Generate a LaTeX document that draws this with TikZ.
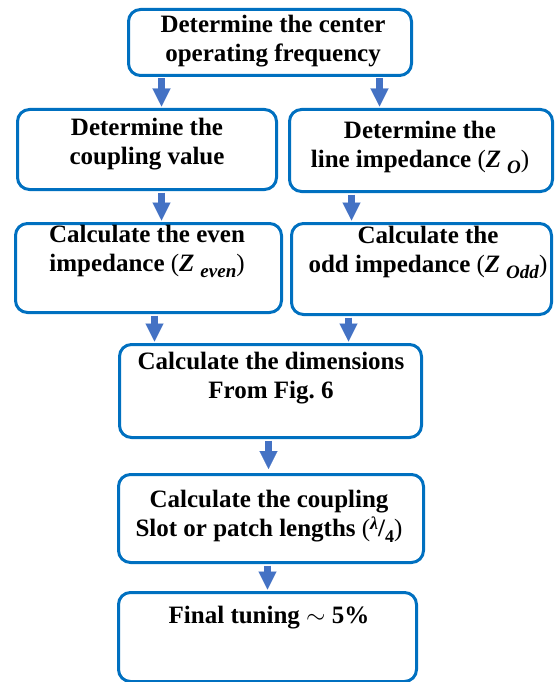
\documentclass[tikz,border=0pt]{standalone}
\usepackage{fontspec}
\setmainfont{Liberation Serif}
\usetikzlibrary{arrows.meta}
\definecolor{flowblue} {RGB}{  0,112,192}
\definecolor{arrowblue}{RGB}{ 68,114,196}
\newcommand{\imped}[1]{{\mdseries(}\textit{Z}\hspace{6pt}\raisebox{-0.5ex}{\fontsize{19}{19}\selectfont\textit{#1}}{\mdseries)}}
\newcommand{\quarterwave}{{\mdseries(}\raisebox{0.6ex}{\fontsize{18}{18}\selectfont\textit{λ}}/\raisebox{-0.5ex}{\fontsize{18}{18}\selectfont 4}{\mdseries)}}

\tikzset{
  stepbox/.style={draw=flowblue, line width=3pt, rounded corners=12pt,
                  anchor=north west, inner sep=0pt},
  steptext/.style={anchor=north, align=center, inner sep=0pt,
                   font=\fontsize{25}{29.5}\selectfont\bfseries},
  flowarrow/.style={arrowblue, line width=7pt,
                    -{Triangle[width=18pt,length=18pt,line width=0.1pt]},
                    shorten <=1.5pt, shorten >=1.5pt}
}

\begin{document}
\begin{tikzpicture}[x=1pt,y=-1pt]
\useasboundingbox (0,0) rectangle (554,682);

% boxes
\node[stepbox, minimum width=283pt, minimum height=66pt] (freq) at (127,8)   {};
\node[stepbox, minimum width=259pt, minimum height=80pt] (cpl)  at (16,108)  {};
\node[stepbox, minimum width=263pt, minimum height=82pt] (imp)  at (288,108) {};
\node[stepbox, minimum width=266pt, minimum height=89pt] (even) at (14,222)  {};
\node[stepbox, minimum width=260pt, minimum height=91pt] (odd)  at (290,222) {};
\node[stepbox, minimum width=302pt, minimum height=93pt] (dims) at (118,343) {};
\node[stepbox, minimum width=305pt, minimum height=88pt] (slot) at (117,473) {};
\node[stepbox, minimum width=298pt, minimum height=89pt] (tune) at (117,591) {};

% texts
\node[steptext] (freqtxt) at (273,11.35)  {\strut Determine the center\\operating frequency};
\node[steptext] (cpltxt)  at (147,114.35) {\strut Determine the\\coupling value};
\node[steptext] (imptxt)  at (420,117.35) {\strut Determine the\\line impedance \imped{O}};
\node[steptext] (eventxt) at (147,221.35) {\strut Calculate the even\\impedance \imped{even}};
\node[steptext] (oddtxt)  at (428,222.35) {\strut Calculate the\\odd impedance \imped{Odd}};
\node[steptext] (dimstxt) at (271,348.35) {\strut Calculate the dimensions\\From Fig.\ 6};
\node[steptext] (slottxt) at (269,486.35) {\strut Calculate the coupling\\Slot or patch lengths \quarterwave};
\node[steptext] (tunetxt) at (269,602.35) {\strut Final tuning $\sim$ 5\%};

% arrows
\draw[flowarrow] ([xshift=-108.5pt]freq.south) -- ([xshift=14.5pt]cpl.north);
\draw[flowarrow] ([xshift=109.5pt]freq.south)  -- ([xshift=-41.5pt]imp.north);
\draw[flowarrow] ([xshift=14.5pt]cpl.south)    -- ([xshift=13pt]even.north);
\draw[flowarrow] ([xshift=-69.5pt]imp.south)   -- ([xshift=-70pt]odd.north);
\draw[flowarrow] ([xshift=6pt]even.south)      -- ([xshift=-116pt]dims.north);
\draw[flowarrow] ([xshift=-73pt]odd.south)     -- ([xshift=78pt]dims.north);
\draw[flowarrow, shorten >=4pt] ([xshift=-2pt]dims.south) -- ([xshift=-2.5pt]slot.north);
\draw[flowarrow] ([xshift=-3.5pt]slot.south)   -- (tune.north);

\end{tikzpicture}
\end{document}
